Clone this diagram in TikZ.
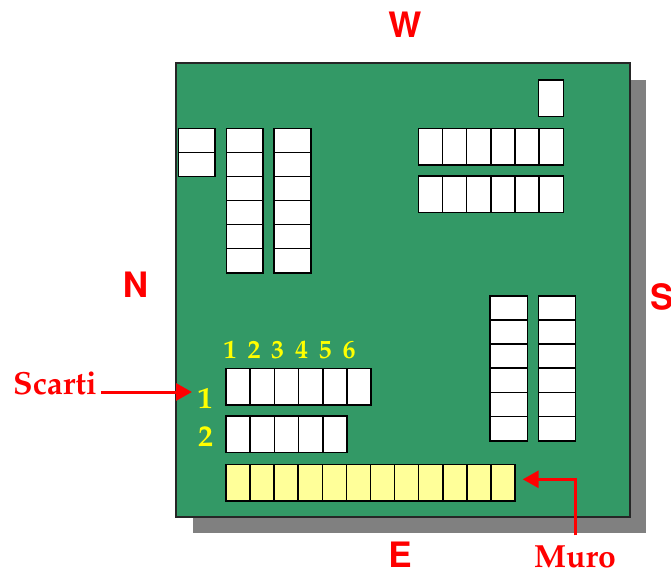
\documentclass[tikz,border=0pt]{standalone}
\usepackage[T1]{fontenc}
\usetikzlibrary{arrows.meta}
\newcommand\palfont{\fontfamily{ppl}\bfseries}
\newcommand\helfont{\fontfamily{phv}\bfseries}
\definecolor{boardgreen}{RGB}{51,153,102}
\definecolor{shadowgray}{RGB}{128,128,128}
\definecolor{wallyellow}{RGB}{255,255,153}
\definecolor{numyellow}{RGB}{255,255,0}
\definecolor{labred}{RGB}{255,0,0}
\tikzset{
  tile/.style={draw=black, line width=1.6pt, fill=white, inner sep=0pt, outer sep=0pt},
  vtile/.style={tile, minimum width=24.1pt, minimum height=36.7pt},
  htile/.style={tile, minimum width=36.5pt, minimum height=24.1pt},
  walltile/.style={vtile, fill=wallyellow},
  compass/.style={text=labred, inner sep=0pt, font=\helfont\fontsize{35}{40}\selectfont},
  label/.style={text=labred, inner sep=0pt, font=\palfont\fontsize{32}{36}\selectfont},
  topnum/.style={text=numyellow, inner sep=0pt, anchor=base, font=\palfont\fontsize{26}{30}\selectfont},
  rownum/.style={text=numyellow, inner sep=0pt, anchor=base, font=\palfont\fontsize{30}{34}\selectfont},
  arr/.style={draw=labred, line width=3pt, -{Triangle[length=16pt,width=17pt]}},
}
\begin{document}
\begin{tikzpicture}[x=1pt,y=-1pt]
\useasboundingbox (0,0) rectangle (671,570);
% shadow and board
\fill[shadowgray] (193,80) rectangle (646,533);
\draw[fill=boardgreen, draw=black!85, line width=1.5pt] (176,63) rectangle (630,517);
% top-left pair
\foreach \i in {0,1} \node[htile] (tl\i) at (196.7,{140.4+24.2*\i}) {};
% two columns top-left
\foreach \i in {0,...,5} {
  \node[htile] (ca\i) at (244.7,{140.35+24.07*\i}) {};
  \node[htile] (cb\i) at (292.5,{140.35+24.07*\i}) {};
}
% top-right single
\node[tile, minimum width=25pt, minimum height=36.7pt] (trs) at (550.8,98.3) {};
% top-right rows
\foreach \i in {0,...,5} {
  \node[vtile] (ra\i) at ({430.4+24.17*\i},146.7) {};
  \node[vtile] (rb\i) at ({430.4+24.17*\i},194.3) {};
}
% right columns
\foreach \i in {0,...,5} {
  \node[tile, minimum width=37.3pt, minimum height=24.1pt] (sa\i) at (508.7,{307.8+24.17*\i}) {};
  \node[tile, minimum width=37.3pt, minimum height=24.1pt] (sb\i) at (557,{307.8+24.17*\i}) {};
}
% discard rows
\foreach \i in {0,...,5} \node[vtile] (da\i) at ({238.1+24.17*\i},386.7) {};
\foreach \i in {0,...,4} \node[vtile] (db\i) at ({238.1+24.17*\i},434.3) {};
% wall
\foreach \i in {1,...,12} \node[walltile] (w\i) at ({238.04+24.08*(\i-1)},482.7) {};
% numbers
\node[topnum] (n1) at (230,358.3) {1};
\node[topnum] (n2) at (254,358.3) {2};
\node[topnum] (n3) at (277.7,358.3) {3};
\node[topnum] (n4) at (301.7,358.3) {4};
\node[topnum] (n5) at (325,358.3) {5};
\node[topnum] (n6) at (349,358.3) {6};
\node[rownum] (r1) at (205,408.3) {1};
\node[rownum] (r2) at (205.5,446.7) {2};
% compass letters
\node[compass] (W) at (405,25) {W};
\node[compass] (N) at (135.5,284.7) {N};
\node[compass] (S) at (661.7,297) {S};
\node[compass] (E) at (400,555) {E};
% labels and arrows
\node[label, anchor=base west] (scarti) at (13,394) {Scarti};
\coordinate (scartitip) at (192,392);
\draw[arr] ([xshift=4pt,yshift=2pt]scarti.base east) -- (scartitip);
\node[label, anchor=base] (muro) at (575,567) {Muro};
\coordinate (murotip) at (522.7,479.3);
\draw[arr] ([yshift=10pt]muro.north) |- (murotip);
\end{tikzpicture}
\end{document}
